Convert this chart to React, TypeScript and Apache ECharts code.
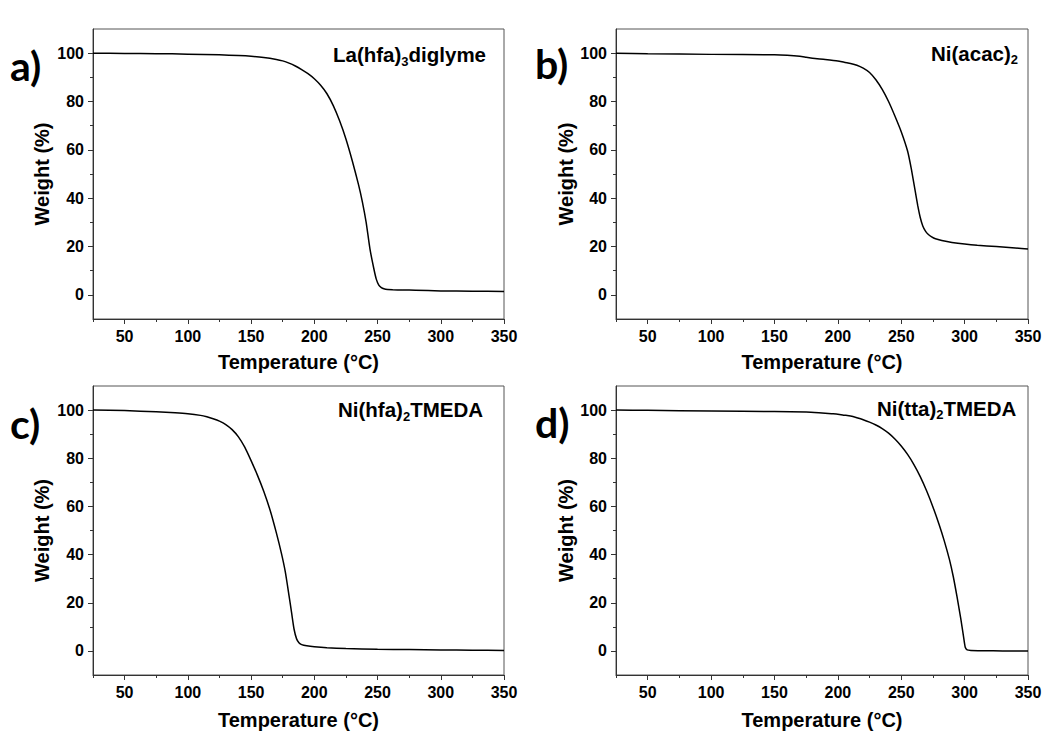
import React, { useEffect, useRef } from "react";
import * as echarts from "echarts";

// ---- data ----
const tempA = [25, 50, 75, 100, 125, 140, 150, 160, 170, 175, 180, 185, 190, 195, 200, 205, 210, 215, 220, 225, 230, 235, 238, 241, 244, 247, 249, 251, 253, 255, 258, 262, 270, 280, 300, 325, 350];
const weightA = [100, 99.9, 99.8, 99.6, 99.3, 99.0, 98.7, 98.2, 97.4, 96.8, 95.9, 94.7, 93.2, 91.5, 89.4, 86.7, 83.2, 78.3, 72.0, 64.5, 55.5, 45.5, 38.5, 30.0, 19.0, 11.0, 6.5, 4.0, 3.0, 2.5, 2.2, 2.1, 2.0, 1.9, 1.6, 1.5, 1.4];

const tempB = [25, 50, 100, 150, 160, 170, 175, 180, 190, 200, 205, 210, 215, 220, 225, 230, 235, 240, 245, 250, 255, 258, 261, 263, 265, 267, 269, 271, 274, 277, 282, 290, 300, 310, 325, 340, 350];
const weightB = [100, 99.8, 99.5, 99.3, 99.1, 98.7, 98.3, 97.9, 97.4, 96.8, 96.2, 95.7, 95.0, 93.8, 92.0, 89.0, 85.0, 80.0, 74.0, 67.5, 59.5, 52.0, 43.0, 37.0, 32.0, 28.5, 26.5, 25.2, 24.0, 23.2, 22.5, 21.7, 21.0, 20.5, 20.0, 19.4, 19.0];

const tempC = [25, 50, 75, 90, 100, 110, 115, 120, 125, 130, 135, 140, 145, 150, 155, 160, 165, 170, 174, 177, 180, 182, 184, 186, 188, 190, 194, 200, 210, 225, 250, 275, 300, 325, 350];
const weightC = [100, 99.8, 99.3, 98.9, 98.5, 97.8, 97.2, 96.4, 95.4, 94.0, 91.9, 88.9, 84.6, 79.0, 73.0, 66.3, 58.5, 49.0, 40.5, 33.0, 23.0, 16.0, 9.0, 5.0, 3.3, 2.6, 2.1, 1.7, 1.3, 1.0, 0.7, 0.55, 0.4, 0.3, 0.2];

const tempD = [25, 50, 100, 150, 175, 185, 195, 200, 205, 210, 215, 220, 225, 230, 235, 240, 245, 250, 255, 260, 265, 270, 275, 280, 284, 288, 291, 294, 297, 299, 300.5, 302, 305, 315, 330, 350];
const weightD = [100, 99.9, 99.6, 99.4, 99.2, 98.9, 98.5, 98.3, 97.9, 97.5, 96.8, 96.0, 95.0, 93.8, 92.3, 90.4, 88.0, 85.1, 81.6, 77.4, 72.4, 66.5, 59.8, 52.3, 45.6, 38.0, 31.0, 22.5, 13.3, 6.5, 1.5, 0.4, 0.2, 0.1, 0, 0];

const panelLetters = ["a)", "b)", "c)", "d)"];
const compoundMain = [["La(hfa)", "diglyme"], ["Ni(acac)", ""], ["Ni(hfa)", "TMEDA"], ["Ni(tta)", "TMEDA"]];
const compoundSub = ["3", "2", "2", "2"];

const xMajorTicks = [50, 100, 150, 200, 250, 300, 350];
const xMinorTicks = [25, 75, 125, 175, 225, 275, 325];
const yMajorTicks = [0, 20, 40, 60, 80, 100];
const yMinorTicks = [10, 30, 50, 70, 90];

const xTitle = "Temperature (°C)";
const yTitle = "Weight (%)";

const FONT = "'Liberation Sans', Arial, sans-serif";

export default function App() {
  const ref = useRef<HTMLDivElement>(null);
  useEffect(() => {
    if (!ref.current) return;
    const chart = echarts.init(ref.current, undefined, { renderer: "svg" });
    const temps = [tempA, tempB, tempC, tempD];
    const weights = [weightA, weightB, weightC, weightD];
    const grids = [
      { left: 93, top: 29, width: 411, height: 290 },
      { left: 616, top: 29, width: 412, height: 290 },
      { left: 93, top: 386, width: 411, height: 289 },
      { left: 616, top: 386, width: 412, height: 289 },
    ];
    const xNameGap = [33, 33, 35, 35];
    const yNameGap = [41, 39, 41, 39];
    const axisColor = "#333";
    const labelStyle = { color: "#000", fontFamily: FONT, fontWeight: "bold" as const, fontSize: 16 };
    const nameStyle = { color: "#000", fontFamily: FONT, fontWeight: "bold" as const, fontSize: 20 };

    const xAxes: any[] = [];
    const yAxes: any[] = [];
    for (let i = 0; i < 4; i++) {
      xAxes.push({
        type: "value", gridIndex: i, min: 25, max: 350, interval: 25, position: "bottom",
        name: xTitle, nameLocation: "middle", nameGap: xNameGap[i], nameTextStyle: nameStyle,
        axisLine: { show: true, onZero: false, lineStyle: { color: axisColor, width: 1 } },
        axisTick: { show: true, length: 5, customValues: xMajorTicks, lineStyle: { color: axisColor } },
        axisLabel: { ...labelStyle, margin: 9, customValues: xMajorTicks },
        splitLine: { show: false },
      });
      yAxes.push({
        type: "value", gridIndex: i, min: -10, max: 110, interval: 10, position: "left",
        name: yTitle, nameLocation: "middle", nameGap: yNameGap[i], nameTextStyle: nameStyle,
        axisLine: { show: true, onZero: false, lineStyle: { color: axisColor, width: 1 } },
        axisTick: { show: true, length: 5, customValues: yMajorTicks, lineStyle: { color: axisColor } },
        axisLabel: { ...labelStyle, margin: 9, customValues: yMajorTicks },
        splitLine: { show: false },
      });
    }
    // minor-tick axes: placed on the opposite side, then shifted onto the main axis line
    for (let i = 0; i < 4; i++) {
      xAxes.push({
        type: "value", gridIndex: i, min: 25, max: 350, interval: 25, position: "top",
        offset: -grids[i].height,
        axisLine: { show: false, onZero: false }, axisLabel: { show: false },
        axisTick: { show: true, inside: true, length: 3, customValues: xMinorTicks, lineStyle: { color: axisColor } },
        splitLine: { show: false },
      });
      yAxes.push({
        type: "value", gridIndex: i, min: -10, max: 110, interval: 10, position: "right",
        offset: -grids[i].width,
        axisLine: { show: false, onZero: false }, axisLabel: { show: false },
        axisTick: { show: true, inside: true, length: 3, customValues: yMinorTicks, lineStyle: { color: axisColor } },
        splitLine: { show: false },
      });
    }

    const series = temps.map((t, i) => ({
      type: "line",
      xAxisIndex: i,
      yAxisIndex: i,
      data: t.map((x, k) => [x, weights[i][k]]),
      showSymbol: false,
      smooth: 0.2,
      lineStyle: { color: "#000", width: 1.5 },
      silent: true,
    }));

    const letterPos = [
      { x: 10, y: 45 },
      { x: 535, y: 43 },
      { x: 10, y: 403 },
      { x: 535, y: 402 },
    ];
    const compPos = [
      { x: 333, y: 61.7 },
      { x: 931, y: 60 },
      { x: 338, y: 416.7 },
      { x: 877, y: 415 },
    ];
    const graphics: any[] = [];
    for (let i = 0; i < 4; i++) {
      graphics.push({
        type: "text", x: letterPos[i].x, y: letterPos[i].y,
        style: {
          text: panelLetters[i], fill: "#000",
          font: "bold 41px Lato, 'Open Sans', sans-serif",
          verticalAlign: "alphabetic", textBaseline: "alphabetic",
        },
      });
      const [m1, m2] = compoundMain[i];
      const txt = `{m|${m1}}{s|${compoundSub[i]}}` + (m2 ? `{m|${m2}}` : "");
      graphics.push({
        type: "text", x: compPos[i].x, y: compPos[i].y - 20,
        style: {
          text: txt, fill: "#000", verticalAlign: "top", align: "left",
          rich: {
            m: { fontFamily: FONT, fontWeight: "bold", fontSize: 20.5, lineHeight: 26, fill: "#000", verticalAlign: "middle" },
            s: { fontFamily: FONT, fontWeight: "bold", fontSize: 13, lineHeight: 13, fill: "#000", verticalAlign: "bottom" },
          },
        },
      });
    }

    chart.setOption({
      animation: false,
      backgroundColor: "#fff",
      grid: grids.map((g) => ({ ...g, show: true, borderColor: "#555", borderWidth: 1, backgroundColor: "transparent" })),
      xAxis: xAxes,
      yAxis: yAxes,
      series,
      graphic: graphics,
    });
    return () => chart.dispose();
  }, []);
  return <div ref={ref} style={{ position: "absolute", left: 0, top: 0, width: 1049, height: 731 }} />;
}
